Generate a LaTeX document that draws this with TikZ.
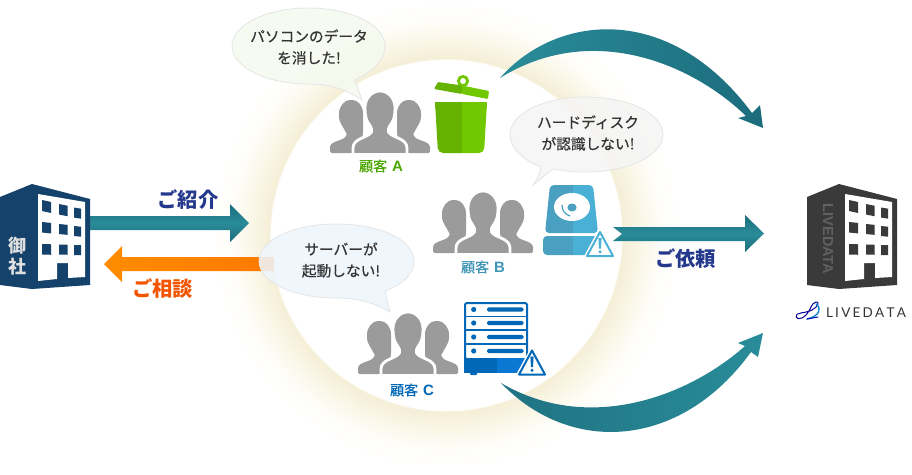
\documentclass[tikz,border=0pt]{standalone}
\usepackage{fontspec}
\setmainfont{Noto Sans CJK JP}
\newfontfamily\medfont[FakeBold=0.5]{Noto Sans CJK JP}
\newfontfamily\latinfont{Liberation Sans}
\newfontfamily\logofont{Lato}
\pgfdeclareradialshading{glowshade}{\pgfpointorigin}{rgb(0bp)=(1,1,1);rgb(18.72bp)=(1,1,1);rgb(18.75bp)=(.96,.935,.84);rgb(20.5bp)=(.98,.965,.9);rgb(23bp)=(.997,.993,.98);rgb(25bp)=(1,1,1);rgb(50bp)=(1,1,1)}
\definecolor{tealA}{HTML}{2A8C99}
\definecolor{tealB}{HTML}{1C6C7C}
\definecolor{navyT}{HTML}{24398C}
\definecolor{gPerson}{HTML}{9B9B9B}
\definecolor{bldgNavy}{HTML}{14426B}
\definecolor{bldgGray}{HTML}{3A3A3A}
\definecolor{bubA}{HTML}{F5FAEF}
\definecolor{bubB}{HTML}{F5F5F5}
\definecolor{bubC}{HTML}{EEF6FC}
\definecolor{trashL}{HTML}{65B300}
\definecolor{trashR}{HTML}{72C800}
\definecolor{hddL}{HTML}{49A0C0}
\definecolor{hddR}{HTML}{4BB0D5}
\definecolor{srvL}{HTML}{0068B7}
\definecolor{srvR}{HTML}{0A78D2}
\newcommand{\win}[5]{\fill (#1,#3) -- ({#1+#2},{#3+#5*#2}) -- ({#1+#2},{#3+#4+#5*#2}) -- (#1,{#3+#4}) -- cycle;}
\newcommand{\bldg}[2]{%
 \begin{scope}[shift={(#1,0)}]
  \fill[#2] (0,197) -- (32,184) -- (90,199) -- (90,285) -- (32,289) -- (0,285) -- cycle;
  \fill[white] (38,194) -- (85,202) -- (85,277) -- (68,278) -- (68,263) -- (57,263) -- (57,279) -- (38,281) -- cycle;
  \begin{scope}[fill=#2]
   \win{42}{9}{200}{11}{.22}\win{59}{8.5}{204}{10.5}{.2}\win{74}{7}{207.5}{10}{.17}
   \win{42}{9}{222}{10.5}{.1}\win{59}{8.5}{224}{10}{.1}\win{74}{7}{226}{10}{.1}
   \win{42}{9}{244}{10.5}{.03}\win{59}{8.5}{244.5}{10}{.03}\win{74}{7}{245}{10}{.03}
  \end{scope}
 \end{scope}}
\newcommand{\warnsign}[3]{%
 \begin{scope}[shift={(#1,#2)}]
  \draw[white,fill=white,line width=5,line join=round] (0,-25) -- (13,-1) -- (-13,-1) -- cycle;
  \draw[#3,fill=white,line width=2,line join=round] (0,-25) -- (13,-1) -- (-13,-1) -- cycle;
  \fill[#3] (-1.6,-19) -- (1.6,-19) -- (1,-8.5) -- (-1,-8.5) -- cycle;
  \fill[#3] (0,-5.2) circle (1.7);
 \end{scope}}
\tikzset{
 people/.pic={
  \foreach \sx in {-1,1}{
   \begin{scope}[xscale=\sx]
    \fill[gPerson,rounded corners=1.5] (-50,0) -- (-50,-4) .. controls (-50,-12) and (-38,-12) .. (-34,-17) .. controls (-33,-19) and (-35,-22) .. (-37,-26) .. controls (-40,-30) and (-41,-34) .. (-41,-38) .. controls (-41,-47) and (-35,-53) .. (-29,-53) .. controls (-22,-53) and (-17,-47) .. (-17,-38) -- (-17,-20) -- (-20,0) -- cycle;
   \end{scope}}
  \path[draw=white,line width=2.8,fill=gPerson,line join=round] (-27,1.5) -- (-27,-5) .. controls (-27,-15) and (-12,-15) .. (-8.5,-21) .. controls (-7.5,-23.5) and (-9,-26) .. (-11,-29) .. controls (-14,-33) and (-15,-38) .. (-15,-45) .. controls (-15,-55) and (-8,-62) .. (0,-62) .. controls (8,-62) and (15,-55) .. (15,-45) .. controls (15,-38) and (14,-33) .. (11,-29) .. controls (9,-26) and (7.5,-23.5) .. (8.5,-21) .. controls (12,-15) and (27,-15) .. (27,-5) -- (27,1.5) -- cycle;
  \fill[white] (-30,0) rectangle (30,3);
 },
 bubbletext/.style={align=center,text=black!80,font=\fontsize{14.7}{21.5}\selectfont\medfont},
 grouplabel/.style={font=\fontsize{14}{16}\selectfont\medfont},
 arrowlabel/.style={font=\fontsize{20.3}{24}\selectfont\bfseries},
 tealv/.style={top color=tealB,bottom color=tealB,middle color=tealA},
 bubble/.style={line width=.8,fill opacity=.88},
}
\newcommand{\grplatin}[1]{\hspace{5pt}{\fontsize{15}{16}\selectfont\latinfont\bfseries #1}}
\begin{document}
\begin{tikzpicture}[x=1pt,y=-1pt]
\useasboundingbox (0,0) rectangle (912,474);
% glow
\shade[shading=glowshade] (446,235) circle (235);
% straight arrows
\shade[tealv] (90,216) -- (230,216) -- (230,204) -- (249,223) -- (230,242) -- (230,230) -- (90,230) -- cycle;
\shade[left color=orange!90!yellow,right color=orange!95!red] (274,257) -- (122,257) -- (122,246) -- (104,264) -- (122,282) -- (122,271) -- (274,271) -- cycle;
\shade[tealv] (613,227) -- (745,227) -- (745,215) -- (764,233.5) -- (745,252) -- (745,241) -- (613,241) -- (622,234) -- cycle;
% curved arrows
\coordinate (topstart) at (500,78);
\coordinate (toptip) at (763,128);
\coordinate (botstart) at (501,383);
\coordinate (bottip) at (763,333);
\shade[left color=tealA,middle color=tealA,right color=tealB]
 (topstart) .. controls (555,15) and (668,0) .. (752,113) -- (760,105) -- (toptip) -- (738,118) -- (746,116) .. controls (690,62) and (590,22) .. (topstart) -- cycle;
\shade[left color=tealB!80!tealA,middle color=tealA,right color=tealA]
 (botstart) .. controls (570,455) and (680,450) .. (751,352) -- (758,357) -- (bottip) -- (738,343) -- (745,346) .. controls (690,395) and (590,435) .. (botstart) -- cycle;
% bubble A
\draw[bubble,draw=black!10,fill=bubA]
 (355,80) .. controls (378,69) and (385,57) .. (385,46) .. controls (385,25) and (351,8) .. (308.5,8) .. controls (266,8) and (232,25) .. (232,46) .. controls (232,67) and (266,84) .. (308.5,84) .. controls (320,84) and (340,85) .. (362,100) -- cycle;
\node[bubbletext] (bubbleA) at (309,47) {パソコンのデータ\\を消した!};
% bubble B
\draw[bubble,draw=black!10,fill=bubB]
 (553,169) .. controls (564,171) and (575,172) .. (586,172) .. controls (629,172) and (663,155) .. (663,134.5) .. controls (663,114) and (629,97) .. (586,97) .. controls (543,97) and (510,114) .. (510,134.5) .. controls (510,149) and (525,161) .. (541,167) .. controls (540,173) and (537,180) .. (533,185) -- cycle;
\node[bubbletext] (bubbleB) at (588,133) {ハードディスク\\が認識しない!};
% bubble C
\draw[bubble,draw=black!10,fill=bubC]
 (385,291) .. controls (404,284) and (414,273) .. (414,261) .. controls (414,240) and (380,224) .. (336.5,224) .. controls (293,224) and (259,240) .. (259,261) .. controls (259,282) and (293,298) .. (336.5,298) .. controls (350,298) and (370,300) .. (390,312) -- cycle;
\node[bubbletext] (bubbleC) at (341,260) {サーバーが\\起動しない!};
% buildings
\bldg{0}{bldgNavy}
\node[font=\fontsize{18}{21}\selectfont\bfseries,text=black!12,align=center,inner sep=0] (gosha) at (18,256.5) {御\\社};
\bldg{807}{bldgGray}
\node[rotate=-90,text=black!62,font=\fontsize{14.5}{16}\selectfont\latinfont\bfseries,inner sep=0] (ldv) at (828,239) {LIVEDATA};
% logo
\node[font=\fontsize{13.5}{15}\selectfont\logofont,text=black!80,inner sep=0] (ldlogo) at (866,312.5) {L\,I\,V\,E\,D\,A\,T\,A};
\draw[line width=1,color=blue!60!black,line cap=round]
 (797,314) .. controls (794,319) and (800,321) .. (806,315) .. controls (811,310) and (811,303) .. (816,302) .. controls (820,301) and (818,307) .. (812,310) .. controls (806,313) and (802,312) .. (798,314) ;
\draw[line width=1.4,color=cyan!70!blue,line cap=round] (816,304) .. controls (822,308) and (820,316) .. (807,319);
\draw[line width=1,color=blue!70!black,line cap=round] (807,319) -- (818,317);
% labels
\node[arrowlabel,text=navyT] (lbl1) at (188,200) {ご紹介};
\node[arrowlabel,text=orange!70!red!95!black] (lbl2) at (162.5,289) {ご相談};
\node[arrowlabel,text=navyT] (lbl3) at (685.5,259) {ご依頼};
% people
\pic at (380,153) {people};
\pic at (483,253) {people};
\pic at (408,374) {people};
\node[grouplabel,text=green!50!black!70!yellow] (gA) at (381,166) {顧客\grplatin{A}};
\node[grouplabel,text=hddR!85!black] (gB) at (483,267) {顧客\grplatin{B}};
\node[grouplabel,text=srvL] (gC) at (412,390) {顧客\grplatin{C}};
% trash
\begin{scope}
 \clip (430,100) rectangle (462,156);
 \fill[trashL,rounded corners=5] (435,102) -- (487,102) -- (484,153) -- (438,153) -- cycle;
\end{scope}
\begin{scope}
 \clip (462,100) rectangle (490,156);
 \fill[trashR,rounded corners=5] (435,102) -- (487,102) -- (484,153) -- (438,153) -- cycle;
\end{scope}
\fill[trashL] (435,102) rectangle (445,108);
\fill[trashR] (477,102) rectangle (487,108);
\draw[trashR,line width=2.8] (463,81) circle (4.6);
\fill[trashL,rounded corners=1] (434,89) -- (438,82) -- (462,85.5) -- (462,94) -- cycle;
\fill[trashR,rounded corners=1] (462,85.5) -- (489,91) -- (488,99) -- (462,94) -- cycle;
% hdd
\begin{scope}
 \clip (540,180) rectangle (573,260);
 \fill[hddL,rounded corners=4] (550,185) -- (593,185) -- (598,233) -- (545,233) -- cycle;
 \fill[hddL,rounded corners=4] (543,236) rectangle (600,255);
\end{scope}
\begin{scope}
 \clip (573,180) rectangle (600,260);
 \fill[hddR,rounded corners=4] (550,185) -- (593,185) -- (598,233) -- (545,233) -- cycle;
 \fill[hddR,rounded corners=4] (543,236) rectangle (600,255);
\end{scope}
\fill[white] (572,207) ellipse (18 and 14);
\fill[hddL] (572,207.5) ellipse (4.6 and 4);
\draw[hddL,line width=1.2] (562,205) .. controls (562,211) and (565,214) .. (570,216);
\warnsign{600}{257}{hddR}
% server
\draw[srvL,line width=2,fill=white,rounded corners=1.5] (465,303) rectangle (527,359);
\foreach \ry in {309.5,323,337,351}{
 \fill[srvL] (473.7,\ry) circle (2.6);
 \fill[srvL,rounded corners=1.5] (487,{\ry-2.2}) rectangle (523.5,{\ry+2.2});
}
\draw[srvL,line width=1.3] (465,316.5) -- (527,316.5) (465,330) -- (527,330) (465,344) -- (527,344);
\fill[srvL] (464,358) rectangle (497,373);
\fill[srvR] (497,358) rectangle (528,373);
\fill[srvL,rounded corners=1] (470,372) rectangle (477,375);
\warnsign{532}{375.5}{srvL}
\end{tikzpicture}
\end{document}
